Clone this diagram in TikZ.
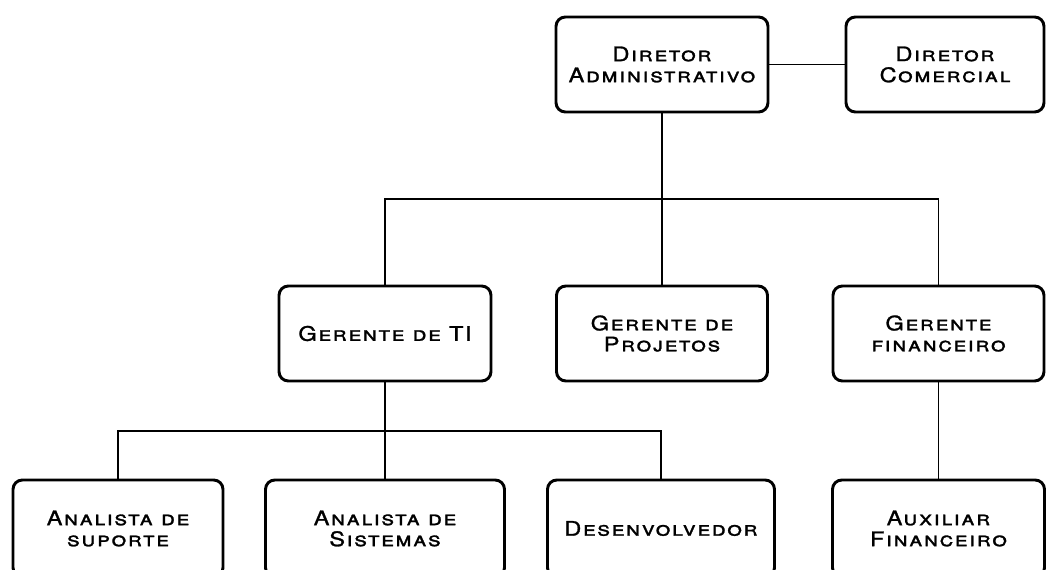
\documentclass[tikz,border=0pt]{standalone}
\usepackage{fontspec}
\newfontfamily\orgfont{TeX Gyre Heros}[Letters=SmallCaps,LetterSpace=8,FakeStretch=1.18,FakeBold=1.3]
\begin{document}
\begin{tikzpicture}[x=0.75pt,y=-0.75pt,
  box/.style={draw, line width=2.2pt, rounded corners=7pt, align=center, inner sep=0pt,
    font=\orgfont\fontsize{15}{15.75}\selectfont, fill=white},
  link/.style={draw, line width=1.1pt}]
\useasboundingbox (0,0) rectangle (1047,569);
\clip (0,0) rectangle (1047,569);
% top row
\node[box, minimum width=159pt, minimum height=71.25pt] (DA) at (662,64.5) {Diretor\\Administrativo};
\node[box, minimum width=148.5pt, minimum height=71.25pt] (DC) at (945,64.5) {Diretor\\Comercial};
% middle row
\node[box, minimum width=159pt, minimum height=71.25pt] (GTI) at (385,333.5) {Gerente de TI};
\node[box, minimum width=158.25pt, minimum height=71.25pt] (GP) at (662,333.5) {Gerente de\\Projetos};
\node[box, minimum width=158.25pt, minimum height=71.25pt] (GF) at (938.5,333.5) {Gerente\\financeiro};
% bottom row
\node[box, minimum width=157.5pt, minimum height=72.75pt] (AS) at (118,528.5) {Analista de\\suporte};
\node[box, minimum width=179.25pt, minimum height=72.75pt] (ASi) at (385,528.5) {Analista de\\Sistemas};
\node[box, minimum width=170.25pt, minimum height=72.75pt] (Dev) at (661,528.5) {Desenvolvedor};
\node[box, minimum width=159pt, minimum height=72.75pt] (AF) at (938.5,528.5) {Auxiliar\\Financeiro};
% connectors
\coordinate (b1) at (662,199);
\coordinate (b2) at (385,431);
\draw[link] (DA.east) -- (DC.west);
\draw[link] (DA.south) -- (GP.north);
\draw[link] (GTI.north) |- (b1) -| (GF.north);
\draw[link] (GTI.south) -- (ASi.north);
\draw[link] (AS.north) |- (b2) -| (Dev.north);
\draw[link] (GF.south) -- (AF.north);
\end{tikzpicture}
\end{document}
